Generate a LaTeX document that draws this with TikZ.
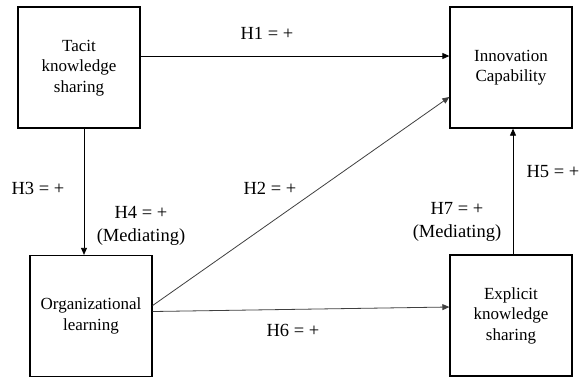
\documentclass[tikz,border=0pt]{standalone}
\usepackage{fontspec}
\setmainfont{Liberation Serif}
\usetikzlibrary{arrows.meta}
\newcommand{\boxtext}[2][4.5pt]{\raisebox{#1}{\begin{tabular}{@{}c@{}}#2\end{tabular}}}
\begin{document}
\begin{tikzpicture}[x=1pt,y=-1pt,
  box/.style={draw, line width=1.3pt, minimum width=122pt, minimum height=121pt, inner sep=0pt, font=\fontsize{17}{20.5}\selectfont},
  lbl/.style={align=center, inner sep=0pt, font=\fontsize{18.5}{23}\selectfont},
  arr/.style={line width=0.8pt, -{Triangle[length=7pt,width=6pt]}}]
\clip (0,0) rectangle (581,376);
\fill[white] (0,0) rectangle (581,376);
\node[box] (tac) at (79,67.5) {\boxtext{Tacit\\knowledge\\sharing}};
\node[box] (inn) at (511,67.5) {\boxtext{Innovation\\Capability}};
\node[box] (org) at (91,316) {\boxtext[4pt]{Organizational\\learning}};
\node[box] (exp) at (511,315.5) {\boxtext[5.5pt]{Explicit\\knowledge\\sharing}};
\draw[arr] ([yshift=11.5pt]tac.east) -- ([yshift=11.5pt]inn.west);
\draw[arr] ([xshift=5pt]tac.south) -- ([xshift=5pt]tac.south |- org.north);
\draw[arr, black!75] ([yshift=10.5pt]org.east) -- ([yshift=-29.5pt]inn.west);
\draw[arr, black!75] ([yshift=4.5pt]org.east) -- ([yshift=8.5pt]exp.west);
\draw[arr] ([xshift=2pt]exp.north) -- ([xshift=2pt]inn.south);
\node[lbl] (h1) at (267,33) {H1 = +};
\node[lbl] (h2) at (270,188) {H2 = +};
\node[lbl] (h3) at (38,188) {H3 = +};
\node[lbl] (h4) at (141,226) {H4 = +\\(Mediating)};
\node[lbl] (h5) at (553,172) {H5 = +};
\node[lbl] (h6) at (293,330) {H6 = +};
\node[lbl] (h7) at (457,222) {H7 = +\\(Mediating)};
\end{tikzpicture}
\end{document}
